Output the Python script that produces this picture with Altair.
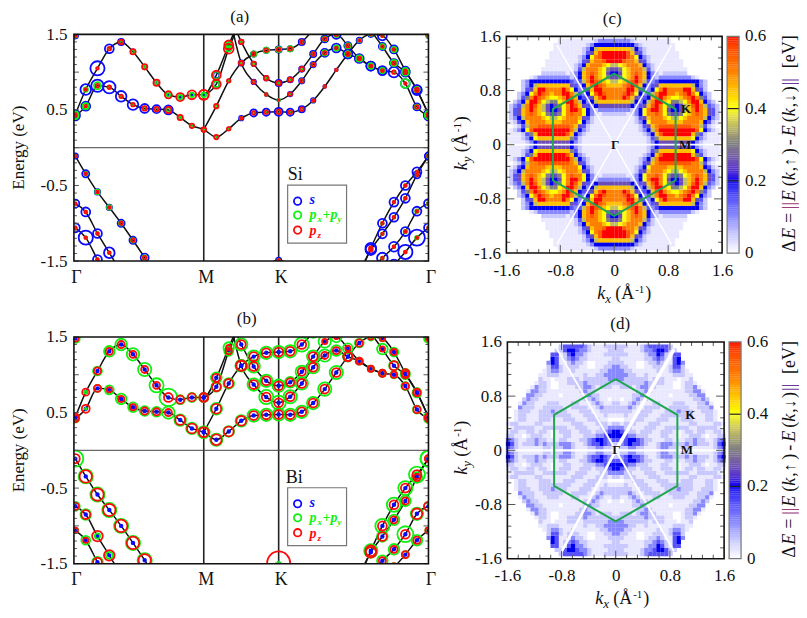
import altair as alt
import pandas as pd

FONT = "Liberation Serif"
K_PATH = [0.01,0.083,0.165,0.248,0.331,0.414,0.496,0.579,0.662,0.745,0.827,0.91,
          0.998,1.085,1.173,1.26,1.348,1.435,
          1.516,1.597,1.677,1.758,1.839,1.92,2.0,2.081,2.162,2.243,2.323,2.404,2.485]
K_TICKS = [0, 0.91, 1.435, 2.485]
E_MAJOR = [-1.5,-1,-0.5,0,0.5,1,1.5]
E_MINOR = [-1.4,-1.3,-1.2,-1.1,-0.9,-0.8,-0.7,-0.6,-0.4,-0.3,-0.2,-0.1,0.1,0.2,0.3,0.4,0.6,0.7,0.8,0.9,1.1,1.2,1.3,1.4]

# band name: (first k-point index, energies)
BANDS = {
 "S1": (0, [.42,.55,.82,.80,.68,.57,.52,.51,.50,.40,.29,.24,.14,.25,.39,.46,.47,.475,.47,.51,.625,.81,1.03,1.24,1.42,1.50,1.48,1.30,1.02,.77,.44]),
 "S2": (0, [.44,.77,1.05,1.31,1.40,1.27,1.07,.86,.70,.67,.70,.70,.96,1.36,1.75]),
 "S3": (11, [.70,.84,1.31,1.70]),
 "S4": (11, [.24,.55,.885,1.12,1.24,1.29,1.30,1.31,1.40,1.56]),
 "S5": (13, [1.80,1.12,.87,.705,.63,.71,.885,1.10,1.255,1.32,1.24,1.18,1.08,1.02,1.0,.85,.54,.42]),
 "S6": (13, [1.80,1.40,1.11,.92,.855,.90,1.04,1.24,1.44,1.50,1.35,1.18,1.08,1.02]),
 "S7": (24, [1.75,1.55,1.34,1.12,1.0,.76,.44]),
 "T1": (0, [1.48,1.62]),
 "T2": (29, [1.62,1.48]),
 "V1": (0, [-.11,-.345,-.585,-.79,-1.0,-1.225,-1.455,-1.7]),
 "V2": (0, [-.74,-.85,-1.135,-1.39,-1.65]),
 "V3": (0, [-1.06,-1.19,-1.48,-1.75]),
 "V4": (24, [-1.7,-1.33,-1.0,-.72,-.5,-.32,-.11]),
 "V5": (24, [-1.65,-1.35,-1.14,-.92,-.67,-.36,-.11]),
 "V6": (25, [-1.62,-1.46,-1.31,-1.11,-.84,-.74]),
 "V7": (27, [-1.55,-1.38,-1.19,-1.06]),
 "V8": (16, [-1.55,-1.49,-1.55]),
}
# radii in panel (a): s, px+py, pz
RAD_A = {
 "S1": ([5,5,7,7,6,6,5,4.5,5,2,2,2,1.5,1.5,2.5,4,4,4.5,4,3.5,2.5,1.5,1.5,5,3,3,5,4.5,4.5,5,5],
        [3.5,3.5,4,1.5,1.5,1.5,2,2,2.5,1.5,1.5,1.5,1.5,1,1.5,1.5,1.5,2,1.5,1.5,1.5,1,1,3,2,2,1.5,3,3,3,4],
        [1.5,1.5,2,2,2,2,2.5,2.5,3.5,3,2.5,2.5,2.5,2,1.5,2,2,2.5,2,2,1.5,1.5,1.5,2,1.5,1.5,1.5,1.5,1.5,2,1.5]),
 "S2": ([5,6,8,5,3.5,2.5,2,1.5,1.5,1.5,1.5,1.5,3.5,2.5,2],
        [3.5,2.5,1,1.5,2,2,1.5,1.5,2,2.5,2.5,2.5,4,3,3],
        [1.5,1.5,1.5,2,2.5,3,3,3.5,4,4.5,5,5.5,5,5,5]),
 "S3": ([2,3.5,2,2],[2.5,3.5,3,3],[5.5,5,5.5,5]),
 "S4": ([2,1.5,1.5,2,3,3,3.5,3,3.5,3],[1.5,1,1,1.5,3,3,3,3,2,2],[2.5,2.5,2,2.5,2,2,2,2,2,2]),
 "S5": ([2,3,2.5,1.5,1.5,2.5,3,3,4.5,5,5,4,5,4,6,5,4,5],
        [1.5,1.5,1.5,1.5,1.5,1.5,2,2,3,3,3,2.5,3,2,1.5,5,2.5,4],
        [2,2.5,2,1.5,1,2,2,2,2,1.5,2,1.5,1.5,1.5,2,1.5,2,1.5]),
 "S6": ([2,2.5,2.5,2.5,3.5,3,3,3.5,4,5,4,5,5,5],
        [1,1.5,1,1.5,1.5,1.5,1.5,2,2.5,3,3,3.5,3,3],
        [2,2.5,2.5,2.5,2.5,2.5,2.5,2,2,2,2,2,1.5,1.5]),
 "S7": ([3,3,4,4.5,5,5.5,5],[2,2,3,3.5,4,2,3.5],[2,2,1.5,2,2,2,2]),
 "T1": ([3,3],[2,2],[1.5,1.5]),
 "T2": ([2.5,2.5],[2,2],[1.5,1.5]),
 "V1": ([3,4,3,3,4,4,4.5,3],[1.5,2,2.5,2.5,2.5,2.5,2.5,2],[1.5,1.5,1.5,1.5,2,2,2,2]),
 "V2": ([4.5,5,5,6,5],[1.5,1.5,1.5,1.5,1.5],[1.5,1.5,1.5,1.5,1.5]),
 "V3": ([5,8,5,5],[1.5,1.5,1.5,1.5],[1.5,1.5,1.5,1.5]),
 "V4": ([5,6,5,5,5,5,4],[1.5,1.5,1.5,1.5,1.5,1.5,2],[1.5,2,1.5,1.5,1.5,1.5,1.5]),
 "V5": ([5,6,5,5,5,4,4],[1.5,1.5,1.5,1.5,1.5,1.5,2],[1.5,2,1.5,1.5,1.5,1.5,1.5]),
 "V6": ([6,6,5.5,5,5,5],[1.5,1.5,1.5,2,2,2],[1.5,1.5,1.5,1.5,1.5,1.5]),
 "V7": ([6,8,9,5],[1.5,1.5,2,1.5],[1.5,1.5,1.5,1.5]),
 "V8": ([3,3,3],[1.5,1.5,1.5],[1.5,1.5,1.5]),
}
# radii in panel (b): s, px+py, pz
RAD_B = {
 "S1": ([1.5]*31,
        [4.5,1,4,5,6,5.5,5.5,5.5,7,6.5,6.5,6.5,7,6,6.5,7,7,7,7,7,7,7.5,7.5,5.5,5,4,3,5,5,4.5,5],
        [4,4.5,4,3,3.5,3.5,4,4,4,5.5,5.5,5.5,6,5.5,5.5,5,5,5,5,5,5,5,5,5,4,3,3,3.5,4.5,4,3.5]),
 "S2": ([1.5]*15,
        [4,1.5,5,6,6.5,7,7.5,8,10,5,5,5,6,6,6],
        [4,4,4,4,4,4,4,4,5,4.5,4.5,4.5,4.5,3,3]),
 "S3": ([1.5]*4,[5,5.5,5,5],[5,5,3.5,3.5]),
 "S4": ([1.5]*10,[6.5,6.5,6,6.5,7,7,7,7,8,6],[5.5,5.5,5,6,5,5,5,5,5,4]),
 "S5": ([1.5]*18,[6,6.5,7,8,8,7.5,7,7,7,6,5,4,3.5,4,4,4.5,4.5,5],[5,5.5,5,5,5,5,5,5,4,4,5,4,3.5,4,3.5,4,4,4]),
 "S6": ([1.5]*14,[6,7,7,7,7,6,7,7,7,6,5.5,3,3,3.5],[5,5,5,5,5,4.5,4.5,5,3,2.5,3,3,3,3.5]),
 "S7": ([1.5]*7,[7,6,6,5.5,5,5,5],[4,3,3,5,4,4,4]),
 "T1": ([1.5,1.5],[5,5],[3.5,3.5]),
 "T2": ([1.5,1.5],[5,5],[3,3]),
 "V1": ([1.5]*8,[9,8,8,8,8,8,8,8],[5,7,7,7,7,7,7,7]),
 "V2": ([1.5]*5,[5,6,3,4,6],[4,5,6,6,4]),
 "V3": ([1.5]*4,[3,5,6,6],[3,3,5,5]),
 "V4": ([1.5]*7,[7.5,7.5,8,8,8,9,9],[6,6,5,5,5,5,4]),
 "V5": ([1.5]*7,[6,6,6,6,6,6,9],[6,6,5,4,4,4,4]),
 "V6": ([1.5]*6,[6,6,6,9,7,5],[4,4,4,5,6,5]),
 "V7": ([1.5]*4,[5,4,6,3.5],[5,4,4,3.5]),
 "V8": ([1,1,1],[1,1.5,1],[1,13,1]),
}
BLUE, GREEN, RED = "#0a0aff", "#10f010", "#ff0a0a"

# upper-right quadrant of the maps, rows from ky=1.59 down, columns from kx=0.03 right
# 0 white, . faint, 1..c = 0.05..0.60 eV
MAP_C = [
"000000000000000000000000000",
"22221.........0000000000000",
"4444421........000000000000",
"99997421.......000000000000",
"cccb9531........00000000000",
"cccba8421.......00000000000",
"ccbaa9531........0000000000",
"789aaa9421.......0000000000",
"5689aaa731........000000000",
"4589aba9421.111111000000000",
"5689aca9421222222221.000000",
"789abca73234444444444210000",
"99abcb94235999999997421 000".replace(" ","0"),
"aaacc953248acaaaacc95310000",
"aabcb84237accaa9abca8421000",
"aacb953349bca9889abca631000",
"999974247acc986678acc942100",
"555542359bca8654579bca73210",
"22221248acca8544579aca95310",
"111.1248aaba8655689aba95310",
".....1359aaa987789aaaa74210",
".....1248aaaa9999aaaa9431.0",
"......1359abbbbbbbbaa731.00",
"......1247acccccccccb8421.0",
".......1249bccccccc9631...0",
"........136999999998421....",
"........124555555554 21....".replace(" ",""),
]
MAP_D = [
"000000000000000000000000000",
"111...123333310000000000000",
"11....122344311000000000000",
"111....122431.3300000000000",
"1......112321.3400000000000",
"11...00.1121..3420000000000",
"211..00..111.13310000000000",
"2211......1..1221.000000000",
"22211..1......111..00000000",
"22111111.111...0..100000000",
"111111121111..00.11.0000000",
".111.12211....00.112.000000",
".....1121........1122.00000",
"....1121.....0....112200000",
".0..1211...........11210000",
"1..121...11...111...112.000",
"11121..1111..11111..1112000",
"1111..111...1112111..111.00",
"..1..111...11111111...11.00",
"00..111...111...111...11.00",
"1.111...111.......11....11.",
"2211...111..111111..11111.0",
"43211.111..111.0.11.11..11.",
"44322111...11..0..111.0..11",
"323443211...11...11211..123",
"12343321..1222111212111.134",
".112211...12211.11......123",
]
LEVEL = {".":0.018, "0":0, "1":.05, "2":.1, "3":.15, "4":.2, "5":.25, "6":.3, "7":.35, "8":.4, "9":.45, "a":.5, "b":.55, "c":.6}
STEP = 0.06
HEX_X = [0,0.91,0.91,0,-0.91,-0.91,0]
HEX_Y = [1.05,0.525,-0.525,-1.05,-0.525,0.525,1.05]
MAP_MAJOR = [-1.6,-0.8,0,0.8,1.6]
MAP_MINOR = [-1.44,-1.28,-1.12,-0.96,-0.64,-0.48,-0.32,-0.16,0.16,0.32,0.48,0.64,0.96,1.12,1.28,1.44]
CBAR_LEVELS = [i*0.006 for i in range(100)]
CBAR_LABELS = [0,0.2,0.4,0.6]
CDOM = [0,.05,.1,.2,.3,.4,.5,.6]
CRANGE = ["#ffffff","#c8c8ff","#8888ff","#0000ee","#808080","#ffff00","#ff8000","#ff0000"]
# white seams: x1,y1,x2,y2,width
SEAMS_C = [(-1.6,0,1.6,0,1.8),(-.85,1.47,.85,-1.47,1.5),(-.85,-1.47,.85,1.47,1.5)]
SEAMS_D = [(-1.6,0,1.6,0,2.2),(0,0,.86,1.49,3.6),(0,0,-.8,-1.5,2.6),(0,0,-.88,1.52,1.8),(0,0,.86,-1.49,1.8)]


def txt(s, x, y, size=17, style="normal", weight="normal", color="#111", angle=0, align="left", base="alphabetic"):
    return alt.Chart(pd.DataFrame({"t":[s]})).mark_text(font=FONT, fontSize=size, fontStyle=style, fontWeight=weight,
        color=color, angle=angle, align=align, baseline=base).encode(x=alt.value(x), y=alt.value(y), text="t:N")


def vtxt(pieces, x, y, size):
    """rotated rich text going upward: (text, advance, shift, size factor, style, color)"""
    out = []
    for s, adv, sh, f, st, col in pieces:
        out.append(txt(s, x+sh, y-adv, size*f, st, color=col, angle=270))
    return out


def band_panel(rad, title, tx, ty, elem, elemx):
    W, H = 355, 227
    XS = alt.Scale(domain=[0,2.485], range=[0,W])
    YS = alt.Scale(domain=[-1.5,1.5], range=[H,0])
    NX = alt.X("k:Q",scale=XS,title=None)
    NY = alt.Y("e:Q",scale=YS,title=None)
    rows = []
    for name,(st,es) in BANDS.items():
        rs,rp,rz = rad[name]
        for i,e in enumerate(es):
            rows.append({"b":name,"k":K_PATH[st+i],"e":e,"s":rs[min(i,len(rs)-1)],"p":rp[min(i,len(rp)-1)],"z":rz[min(i,len(rz)-1)]})
    df = pd.DataFrame(rows)
    base = alt.Chart(df)
    layers = []
    layers.append(alt.Chart(pd.DataFrame({"k":K_TICKS[1:3]})).mark_rule(color="#222",strokeWidth=1.6)
                  .encode(x=alt.X("k:Q",scale=XS,title=None,axis=alt.Axis(values=K_TICKS,labelExpr="datum.value==0?'Γ':datum.value<1?'M':datum.value<2?'K':'Γ'",
                      ticks=False,domain=False,grid=False,labelFont=FONT,labelFontSize=18,labelColor="#111",labelPadding=7,labelOffset=2,labelOverlap=False,labelBound=False,labelFlush=False))))
    layers.append(alt.Chart(pd.DataFrame({"e":[0]})).mark_rule(color="#444",strokeWidth=1)
                  .encode(y=alt.Y("e:Q",scale=YS,title=None,axis=alt.Axis(values=E_MAJOR,labelExpr="''+datum.value",ticks=False,domain=False,grid=False,
                      labelFont=FONT,labelFontSize=17,labelColor="#111",labelPadding=7,labelOverlap=False,labelBound=False,labelFlush=False))))
    layers.append(base.mark_line(color="#111",strokeWidth=1.5,clip=True,interpolate="monotone")
                  .encode(x=NX,y=NY,detail="b:N",order="k:Q"))
    for f,c in (("s",BLUE),("p",GREEN),("z",RED)):
        layers.append(base.mark_point(shape="circle",filled=False,clip=True,color=c,strokeWidth=1.8,opacity=1)
            .encode(x=NX,y=NY,
                    size=alt.Size(f+":Q",legend=None,scale=alt.Scale(type="pow",exponent=2,domain=[0,10],range=[0,314.16]))))
    for vals,ln in ((E_MAJOR,5),(E_MINOR,3)):
        d = alt.Chart(pd.DataFrame({"e":vals}))
        layers.append(d.mark_rule(color="#555",strokeWidth=1).encode(y=NY,x=alt.value(0),x2=alt.value(ln)))
        layers.append(d.mark_rule(color="#555",strokeWidth=1).encode(y=NY,x=alt.value(W-ln),x2=alt.value(W)))
    layers.append(alt.Chart(pd.DataFrame({"a":[1]})).mark_rect(fill=None,stroke="#111",strokeWidth=1.6)
                  .encode(x=alt.value(0),x2=alt.value(W),y=alt.value(0),y2=alt.value(H)))
    # legend
    layers.append(alt.Chart(pd.DataFrame({"a":[1]})).mark_rect(fill="#ffffff",stroke="#777",strokeWidth=1.2)
                  .encode(x=alt.value(214),x2=alt.value(273),y=alt.value(151),y2=alt.value(209)))
    for c,yy in ((BLUE,167),(GREEN,181),(RED,196)):
        layers.append(alt.Chart(pd.DataFrame({"a":[1]})).mark_point(shape="circle",filled=False,color=c,strokeWidth=1.8,opacity=1,size=55)
                      .encode(x=alt.value(224),y=alt.value(yy)))
    layers.append(txt("s",236,170,14,"italic","bold",BLUE))
    layers.append(txt("p",236,185,14,"italic","bold",GREEN))
    layers.append(txt("x",244,188,9,"italic","bold",GREEN))
    layers.append(txt("+p",249,185,14,"italic","bold",GREEN))
    layers.append(txt("y",264,188,9,"italic","bold",GREEN))
    layers.append(txt("p",236,201,14,"italic","bold",RED))
    layers.append(txt("z",244,204,9,"italic","bold",RED))
    layers.append(txt(elem,elemx,146,18))
    layers.append(txt(title,tx,ty,17,align="center"))
    layers.append(txt("Energy (eV)",-50,H/2,17,angle=270,align="center"))
    return alt.layer(*layers).properties(width=W,height=H)


def heat_panel(grid, seams, xl, xr, yt, yb, title, tx, ty, xtx, xty, ytx, yty, kx, ky, gx, gy, mx, my, cx0, cx1, cbx):
    W, H = 236, 227
    XS = alt.Scale(domain=[-1.6,1.6], range=[xl,xr])
    YS = alt.Scale(domain=[-1.6,1.6], range=[yb,yt])
    cs = alt.Scale(domain=CDOM, range=CRANGE)
    rows = []
    for i,row in enumerate(grid):
        for j,ch in enumerate(row):
            v = LEVEL[ch]
            if v == 0:
                continue
            a,b = j*STEP, (j+1)*STEP
            t,u = 1.62-i*STEP, 1.62-(i+1)*STEP
            for sx in (1,-1):
                for sy in (1,-1):
                    rows.append({"x0":sx*a,"x1":sx*(b+.003),"y0":sy*u,"y1":sy*(t+.003),"v":v})
    cells = alt.Chart(pd.DataFrame(rows)).mark_rect(clip=True,strokeWidth=0).encode(
        x=alt.X("x0:Q",scale=XS,title=None,axis=alt.Axis(values=MAP_MAJOR,labelExpr="''+datum.value",ticks=False,domain=False,grid=False,
              labelFont=FONT,labelFontSize=17,labelColor="#111",labelPadding=9,offset=yb-H,labelOverlap=False,labelBound=False,labelFlush=False)),
        x2="x1:Q",
        y=alt.Y("y0:Q",scale=YS,title=None,axis=alt.Axis(values=MAP_MAJOR,labelExpr="''+datum.value",ticks=False,domain=False,grid=False,
              labelFont=FONT,labelFontSize=17,labelColor="#111",labelPadding=6,offset=-xl,labelOverlap=False,labelBound=False,labelFlush=False)),
        y2="y1:Q",
        color=alt.Color("v:Q",scale=cs,legend=None))
    layers = [cells]
    NX = alt.X("x:Q",scale=XS,title=None)
    NY = alt.Y("y:Q",scale=YS,title=None)
    for (x1,y1,x2,y2,w) in seams:
        layers.append(alt.Chart(pd.DataFrame({"x":[x1],"x2":[x2],"y":[y1],"y2":[y2]})).mark_rule(color="#ffffff",strokeWidth=w,clip=True)
                      .encode(x=NX,x2="x2:Q",y=NY,y2="y2:Q"))
    layers.append(alt.Chart(pd.DataFrame({"x":HEX_X,"y":HEX_Y,"i":list(range(7))})).mark_line(color="#1fa64f",strokeWidth=2)
                  .encode(x=NX,y=NY,order="i:Q"))
    for s,(lx,ly) in (("K",(kx,ky)),("Γ",(gx,gy)),("M",(mx,my))):
        layers.append(alt.Chart(pd.DataFrame({"x":[lx],"y":[ly],"t":[s]})).mark_text(font=FONT,fontWeight="bold",fontSize=13,color="#111")
                      .encode(x=NX,y=NY,text="t:N"))
    for vals,ln in ((MAP_MAJOR[1:4],8),(MAP_MINOR,4)):
        dx = alt.Chart(pd.DataFrame({"x":vals}))
        layers.append(dx.mark_rule(color="#555",strokeWidth=1).encode(x=NX,y=alt.value(yt),y2=alt.value(yt+ln)))
        layers.append(dx.mark_rule(color="#555",strokeWidth=1).encode(x=NX,y=alt.value(yb-ln),y2=alt.value(yb)))
        dy = alt.Chart(pd.DataFrame({"y":vals}))
        layers.append(dy.mark_rule(color="#555",strokeWidth=1).encode(y=NY,x=alt.value(xl),x2=alt.value(xl+ln)))
        layers.append(dy.mark_rule(color="#555",strokeWidth=1).encode(y=NY,x=alt.value(xr-ln),x2=alt.value(xr)))
    layers.append(alt.Chart(pd.DataFrame({"a":[1]})).mark_rect(fill=None,stroke="#111",strokeWidth=1.6)
                  .encode(x=alt.value(xl),x2=alt.value(xr),y=alt.value(yt),y2=alt.value(yb)))
    # colour bar
    cb = pd.DataFrame({"v":CBAR_LEVELS})
    cb["y"] = cb["v"]/0.6*3.2-1.6
    cb["y2"] = (cb["v"]+0.0065)/0.6*3.2-1.6
    cb["y2"] = cb["y2"].clip(upper=1.6)
    layers.append(alt.Chart(cb).mark_rect(strokeWidth=0).encode(x=alt.value(cx0),x2=alt.value(cx1),y=NY,y2="y2:Q",
                  color=alt.Color("v:Q",scale=cs,legend=None)))
    ll = pd.DataFrame({"v":CBAR_LABELS})
    ll["y"] = ll["v"]/0.6*3.2-1.6
    layers.append(alt.Chart(ll[ll.v.isin([0.2,0.4])]).mark_rule(color="#222",strokeWidth=1.2).encode(x=alt.value(cx0),x2=alt.value(cx1),y=NY))
    layers.append(alt.Chart(pd.DataFrame({"a":[1]})).mark_rect(fill=None,stroke="#777",strokeWidth=1.2)
                  .encode(x=alt.value(cx0),x2=alt.value(cx1),y=alt.value(yt),y2=alt.value(yb)))
    ll["t"] = ["0","0.2","0.4","0.6"]
    layers.append(alt.Chart(ll).mark_text(font=FONT,fontSize=17,color="#111",align="left").encode(x=alt.value(cx1+6),y=NY,text="t:N"))
    layers.append(txt(title,tx,ty,17,align="center"))
    # kx label
    layers.append(txt("k",xtx,xty,18,"italic"))
    layers.append(txt("x",xtx+8,xty+4,13,"italic"))
    layers.append(txt("(Å",xtx+18,xty,18))
    layers.append(txt("-1",xtx+38,xty-6,11))
    layers.append(txt(")",xtx+48,xty,18))
    # ky label
    layers += vtxt([("k",0,0,1,"italic","#111"),("y",8,4,.72,"italic","#111"),("(Å",18,0,1,"normal","#111"),("-1",38,-6,.62,"normal","#111"),(")",48,0,1,"normal","#111")],ytx,yty,18)
    # colour-bar title
    p = [("Δ",0,0,1,"normal","#111"),("E",13,0,1,"italic","#111"),("=",29,0,1,"normal","#111"),("||",43,0,1,"normal","#a03a78"),
         ("E",51,0,1,"italic","#111"),("(",66,0,1,"normal","#111"),("k",72,0,1,"italic","#111"),(",",81,0,1,"normal","#111"),("↑",86,0,.9,"normal","#111"),(")",98,0,1,"normal","#111"),
         ("-",107,0,1,"normal","#111"),("E",116,0,1,"italic","#111"),("(",130,0,1,"normal","#111"),("k",136,0,1,"italic","#111"),(",",145,0,1,"normal","#111"),("↓",150,0,.9,"normal","#111"),(")",160,0,1,"normal","#111"),
         ("||",167,0,1,"normal","#6a3a9a"),("[eV]",184,0,1,"normal","#111")]
    layers += vtxt(p,cbx,yb-1,18)
    return alt.layer(*layers).properties(width=W,height=H)


a = band_panel(RAD_A,"(a)",166,-12,"Si",214)
b = band_panel(RAD_B,"(b)",173,-13,"Bi",212)
c = heat_panel(MAP_C,SEAMS_C,1,217,2,219,"(c)",107,-10,92,265,-38,136,1.067,0.52,0.015,0,1.05,0,222,234,290)
d = heat_panel(MAP_D,SEAMS_D,2,219,5,222,"(d)",115,-8,90,267,-38,138,1.1,0.52,0.01,0,1.05,0,224,236,290)

chart = alt.ConcatChart(concat=[a,c,b,d],columns=2,bounds="flush",spacing={"row":76,"column":77},
                        padding={"left":2,"top":0,"right":0,"bottom":0}).configure_view(stroke=None)
chart.save("out.html", embed_options={"renderer":"svg","actions":False})
